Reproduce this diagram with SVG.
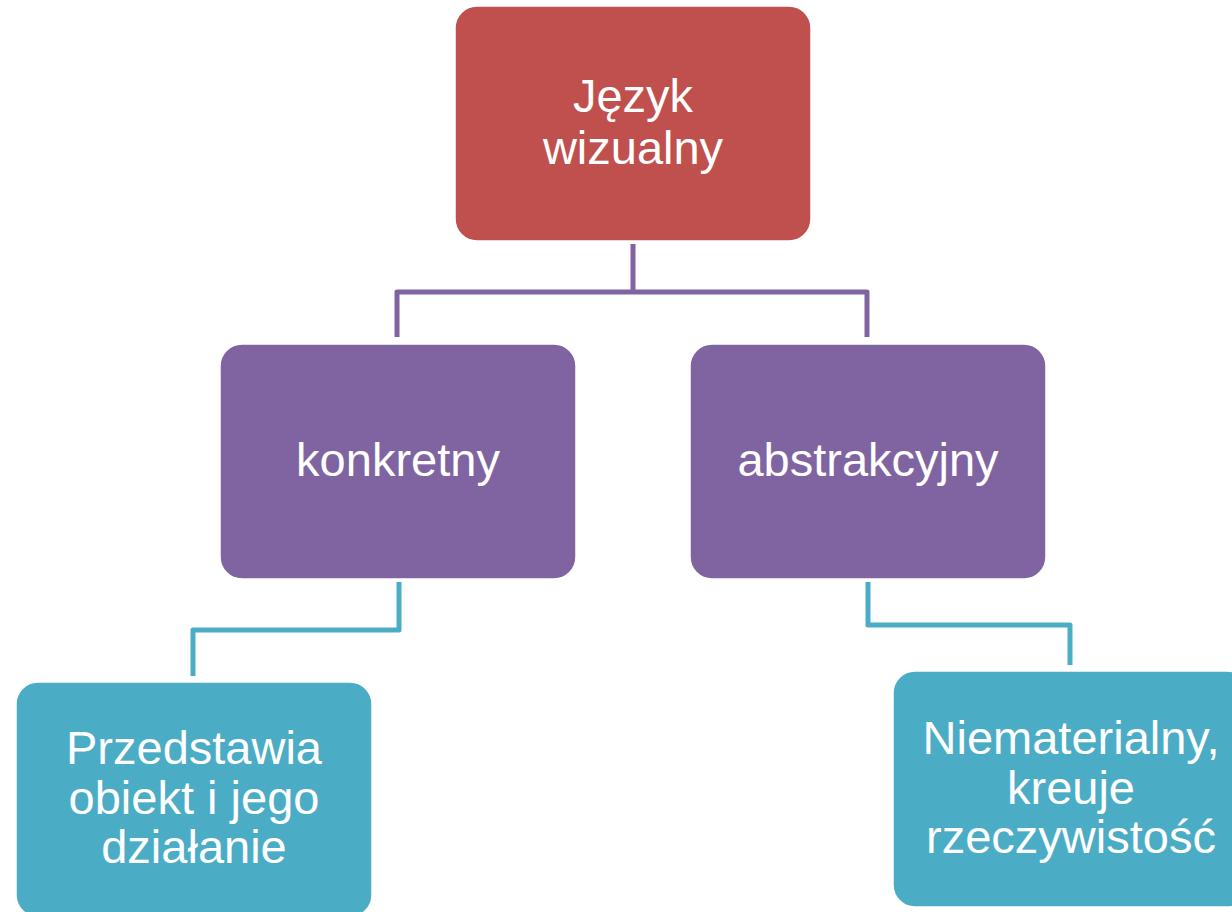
<svg xmlns="http://www.w3.org/2000/svg" width="1232" height="912" viewBox="0 0 1232 912">
<style>
.box{stroke:#ffffff;stroke-width:1.5}
.red{fill:#C0504D}
.pur{fill:#8064A2}
.cyan{fill:#4BACC6}
.t{font-family:"Liberation Sans",Arial,sans-serif;font-size:47px;fill:#ffffff;text-anchor:middle}
.c{fill:none;stroke-width:5;stroke-linejoin:round}
.cp{stroke:#8064A2}
.cc{stroke:#4BACC6}
</style>
<rect width="1232" height="912" fill="#ffffff"/>
<g id="connectors">
<path class="c cp" d="M633 244 V292 M397 337 V292 H867 V337"/>
<path class="c cc" d="M399 582 V630 H193 V676"/>
<path class="c cc" d="M868 582 V625 H1070 V665"/>
</g>
<g id="node-jezyk">
<rect class="box red" x="455" y="6" width="356" height="235" rx="22"/>
<text class="t" x="633" y="112">Język</text>
<text class="t" x="633" y="164">wizualny</text>
</g>
<g id="node-konkretny">
<rect class="box pur" x="220" y="344" width="356" height="235" rx="22"/>
<text class="t" x="398" y="476">konkretny</text>
</g>
<g id="node-abstrakcyjny">
<rect class="box pur" x="690" y="344" width="356" height="235" rx="22"/>
<text class="t" x="868" y="476">abstrakcyjny</text>
</g>
<g id="node-przedstawia">
<rect class="box cyan" x="16" y="682" width="356" height="235" rx="22"/>
<text class="t" x="194" y="764">Przedstawia</text>
<text class="t" x="194" y="814">obiekt i jego</text>
<text class="t" x="194" y="863">działanie</text>
</g>
<g id="node-niematerialny">
<rect class="box cyan" x="893" y="671" width="356" height="236" rx="22"/>
<text class="t" x="1071" y="754">Niematerialny,</text>
<text class="t" x="1071" y="804">kreuje</text>
<text class="t" x="1071" y="853">rzeczywistość</text>
</g>
</svg>
